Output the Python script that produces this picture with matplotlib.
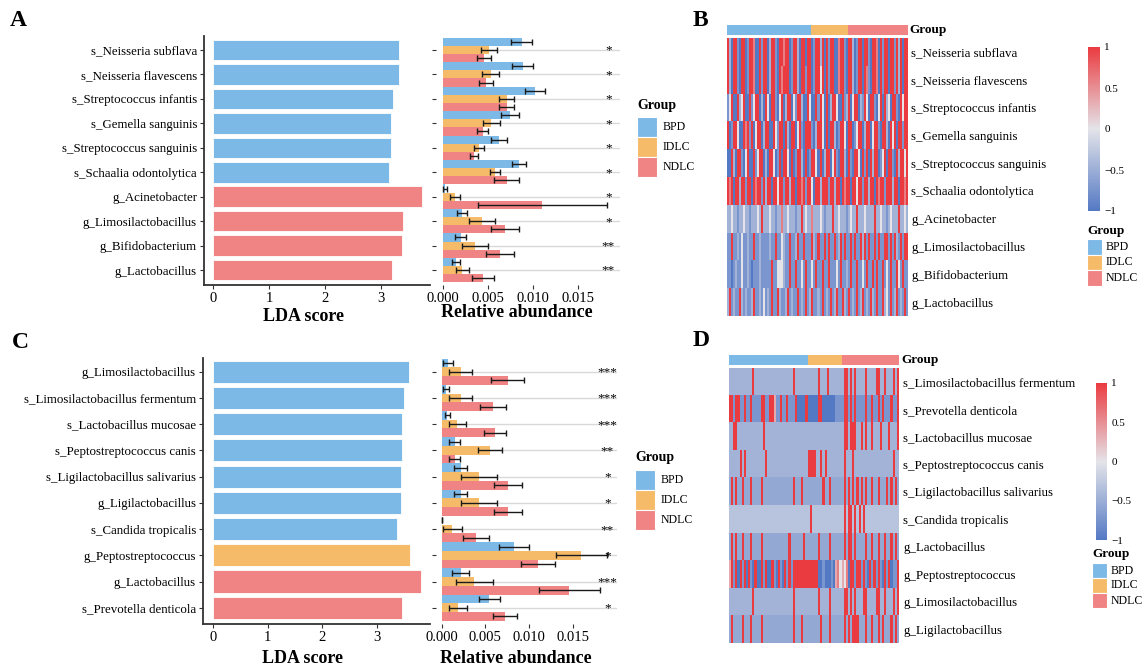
import numpy as np
import matplotlib.pyplot as plt
from matplotlib.colors import LinearSegmentedColormap, ListedColormap, Normalize
from matplotlib.cm import ScalarMappable
from matplotlib.patches import Rectangle

plt.rcParams['font.family'] = ['Liberation Serif', 'DejaVu Serif']

W, H = 1145, 670

groups = ['BPD', 'IDLC', 'NDLC']
group_colors = ['#7db9e6', '#f6bb69', '#f08383']
col = dict(zip(groups, group_colors))

# ---------------- Panel A / B data ----------------
a_taxa = ['s_Neisseria subflava', 's_Neisseria flavescens', 's_Streptococcus infantis',
          's_Gemella sanguinis', 's_Streptococcus sanguinis', 's_Schaalia odontolytica',
          'g_Acinetobacter', 'g_Limosilactobacillus', 'g_Bifidobacterium', 'g_Lactobacillus']
a_lda = [3.32, 3.32, 3.22, 3.18, 3.17, 3.15, 3.74, 3.39, 3.37, 3.19]
a_enriched = ['BPD', 'BPD', 'BPD', 'BPD', 'BPD', 'BPD', 'NDLC', 'NDLC', 'NDLC', 'NDLC']
a_bpd = [0.00874, 0.00885, 0.01022, 0.00744, 0.00622, 0.00844, 0.00022, 0.00207, 0.00196, 0.00141]
a_bpd_se = [0.0012, 0.0012, 0.0011, 0.0010, 0.0009, 0.00075, 0.0002, 0.00055, 0.00065, 0.00045]
a_idlc = [0.00515, 0.00533, 0.00707, 0.00537, 0.00396, 0.00578, 0.00133, 0.00437, 0.00356, 0.00215]
a_idlc_se = [0.0009, 0.00095, 0.0008, 0.00093, 0.00055, 0.00058, 0.0006, 0.00145, 0.0015, 0.00075]
a_ndlc = [0.00456, 0.00478, 0.00707, 0.00441, 0.00344, 0.00707, 0.01107, 0.00689, 0.00633, 0.00448]
a_ndlc_se = [0.00075, 0.00075, 0.0008, 0.0006, 0.0004, 0.00135, 0.0072, 0.0016, 0.0016, 0.0012]
a_sig = ['*', '*', '*', '*', '*', '*', '*', '*', '**', '**']

# heatmap B: one letter per sample (B=-1 ... R=1), samples ordered BPD | IDLC | NDLC
b_counts = [42, 18, 30]
b_rows = [
    "RlBRRbBRRB" "bRRrBBRbRR" "BlRRbBRRrR" "RBbRRlBRRB" "RRBbRRlRBR" "bRRBBrRRbB" "RRlBbRRBRR" "bBRRrBRbRR" "BRRbRlRBRR",
    "RlBRRbBRRB" "bRRrBBRbRR" "BlRRbBRrRR" "RBbRRlBRRb" "RRBbRRwRBR" "bRRBBrRRbB" "RRlBbRRBRr" "bBRRrBRbRR" "BRRbRlRBRR",
    "bwRBBRlwRB" "BRbwRRBlBR" "wBRRbBwRBl" "RRBwbRRlBB" "RwBBRbRwBR" "BlRRwBBRbl" "RBwRRBlbRw" "BRRbBwRBRl" "wBRRbBRwRR",
    "RBbRRwBBRr" "RbRBwRRBlR" "RBBRwbRRBR" "lBRRBwRbBR" "RRbBlRRwBR" "BRRlBbRRwB" "RRBbwRRBlR" "RBwRRbBRRl" "BRwRBRRbRR",
    "BBRlBRRbBw" "RBBRbwRRBl" "BRRwBbRBRR" "wBRBbRRlBR" "BbRRwBRBlR" "RBwRbBRRlB" "RbBRRwBRbR" "BRlRRBbwRB" "RRbBRlRRwR",
    "RrRBRRlRRb" "RRBRrRRbRl" "RRBRRwRRbR" "RlRRBRRrRb" "RRwBRRlRRR" "bRRlRRBRrR" "RBRRwRRbRR" "lRRBRrRRbR" "RRlRRBRRrR",
    "llwllbllwl" "lblllwlRll" "lwllbllrll" "wlllbllRlw" "llrlllwlbl" "llRllwlllb" "lwllRlllwl" "lllRllwllb" "lwlllRllwl",
    "bbRbblbwbb" "lbbRbblbbb" "blbbRbbwlb" "bRbblRbbRb" "bbRlbRbbRb" "RbbRblRbRb" "bRbRbbRlRb" "RbbRbRbbRR" "bRbRlbRbRR",
    "bbBblbbwbb" "lbBbbblbbb" "bbRbbwwwlb" "bRbbRbbwbR" "bbwbRbbRbb" "RbbbwbRbbl" "bRbbRbbwbR" "bbRbRbbRbw" "bRbbRwbRbb",
    "lRblbbRlbl" "bblRbblbwb" "lbRbbRlbbl" "RblbbRblbR" "blRbblbRbl" "bRblRbbRlb" "RblbRblRbl" "bRlbRbbRlw" "bRblRblbRb",
]

# ---------------- Panel C / D data ----------------
c_taxa = ['g_Limosilactobacillus', 's_Limosilactobacillus fermentum', 's_Lactobacillus mucosae',
          's_Peptostreptococcus canis', 's_Ligilactobacillus salivarius', 'g_Ligilactobacillus',
          's_Candida tropicalis', 'g_Peptostreptococcus', 'g_Lactobacillus', 's_Prevotella denticola']
c_lda = [3.59, 3.50, 3.46, 3.46, 3.44, 3.44, 3.38, 3.62, 3.81, 3.46]
c_enriched = ['BPD', 'BPD', 'BPD', 'BPD', 'BPD', 'BPD', 'BPD', 'IDLC', 'NDLC', 'NDLC']
c_bpd = [0.00073, 0.0005, 0.00065, 0.0015, 0.00218, 0.00218, 0.00003, 0.00831, 0.00218, 0.00544]
c_bpd_se = [0.00055, 0.0003, 0.00028, 0.00063, 0.00073, 0.00073, 0.0, 0.0017, 0.001, 0.0012]
c_idlc = [0.00218, 0.00218, 0.0018, 0.00552, 0.00429, 0.00429, 0.00122, 0.01602, 0.00375, 0.00184]
c_idlc_se = [0.0013, 0.0013, 0.001, 0.0014, 0.0021, 0.0021, 0.0011, 0.0029, 0.0021, 0.001]
c_ndlc = [0.00755, 0.0059, 0.0061, 0.0015, 0.00762, 0.00762, 0.00391, 0.01104, 0.0146, 0.00728]
c_ndlc_se = [0.0019, 0.0015, 0.0013, 0.00065, 0.0016, 0.0016, 0.0015, 0.002, 0.0035, 0.0014]
c_sig = ['***', '***', '***', '**', '*', '*', '**', '*', '***', '*']

d_taxa = ['s_Limosilactobacillus fermentum', 's_Prevotella denticola', 's_Lactobacillus mucosae',
          's_Peptostreptococcus canis', 's_Ligilactobacillus salivarius', 's_Candida tropicalis',
          'g_Lactobacillus', 'g_Peptostreptococcus', 'g_Limosilactobacillus', 'g_Ligilactobacillus']
d_counts = [37, 16, 27]
d_rows = [
    "llllllllll" "lRllllllll" "llllllllll" "Rlllllllll" "llRlllRlll" "llllRRlRlR" "llllRllllR" "RllRlllRlR",
    "RRbRRbbRbb" "RbbbbRRbbR" "RpbbRbbRbb" "bRBBBBRBBB" "BBRRBBBBBB" "bbbbRRbRbR" "bbbbRbbRbb" "RbRbbbRbbR",
    "llRRllllll" "llllllRlll" "llllllllll" "llllllllll" "llllllllll" "llllRRlRRR" "llRlRllRll" "lRlllRlllR",
    "lllllRlRll" "lllllllRll" "llllllllll" "lllllllRRR" "RllRlRllll" "llllRlllRl" "llllllllll" "lllllllRll",
    "mRmRmmRmmm" "RmmmmRmmmm" "mmmmmmmmmm" "RmmmRmmmmm" "mmmmRmmRmm" "mmmmRmRmRm" "RmRmRmmRmm" "RmmmRmRmRm",
    "cccccccccc" "cccccccccc" "cccccccccc" "ccccccccRc" "cccccccccc" "ccccRcRRcR" "cRcRcccccc" "cccccccccc",
    "mRmRmmRmmm" "RmmmmRmmmm" "mmmmmmmmRm" "mmmmmRmmmm" "mmRmmmmRmm" "mmmmRmRRmR" "mmmmRmmRmm" "RmmRmmRmRm",
    "pRbRBRbRBR" "bBRBBRbRBB" "RbBRbBRbRb" "RRRRRRRRRR" "RRBBbBBBbB" "prwpwrBRRb" "RRbRbBRbRb" "RbBRbRBbbR",
    "llllllllll" "lRllllllll" "llllllllll" "Rlllllllll" "llRllllRll" "llllRRlRlR" "lllRRllllR" "RllRlllRlR",
    "mRmmmmRmmm" "RmmmmRmmmm" "mmmmmmmmmm" "RmmmRmmmmm" "mmmRmmmRmm" "mmmmRmRmRR" "RmmmRmmRmm" "RmRmmmRmRm",
]

level = {'B': -1.0, 'b': -0.72, 'm': -0.55, 'l': -0.45, 'c': -0.3,
         'w': 0.0, 'p': 0.35, 'r': 0.6, 'R': 1.0}

cmap = LinearSegmentedColormap.from_list('bwr2', ['#5479c4', '#e4e4e9', '#ea3b40'])

fig = plt.figure(figsize=(W / 100, H / 100), dpi=100)


def axes_px(x0, y0, x1, y1):
    return fig.add_axes([x0 / W, 1 - y1 / H, (x1 - x0) / W, (y1 - y0) / H])


def lda_panel(box, taxa, lda, enriched, xlim, ylim, lab_y):
    ax = axes_px(*box)
    y = np.arange(len(taxa))
    ax.barh(y, lda, height=0.84, color=[col[g] for g in enriched],
            edgecolor='white', linewidth=0.6)
    ax.set_yticks(y)
    ax.set_yticklabels(taxa, fontsize=9.3)
    ax.set_xticks([0, 1, 2, 3])
    ax.set_xticklabels(['0', '1', '2', '3'], fontsize=10.5)
    ax.set_xlim(xlim)
    ax.set_ylim(ylim)
    for s in ['top', 'right']:
        ax.spines[s].set_visible(False)
    for s in ['left', 'bottom']:
        ax.spines[s].set_color('#333333')
        ax.spines[s].set_linewidth(1.3)
    ax.tick_params(length=3, width=0.8, color='#333333', pad=2)
    ax.set_xlabel('LDA score', fontsize=13, fontweight='bold')
    ax.xaxis.set_label_coords(0.44, lab_y)
    ax.xaxis.label.set_va('center')
    return ax


def abund_panel(box, means, ses, sig, xlim, ylim, star_x, lab_y):
    ax = axes_px(*box)
    y = np.arange(len(sig))
    ax.hlines(y, 0, xlim[1], color='#d9d9d9', lw=1, zorder=0)
    for k, (m, s, g) in enumerate(zip(means, ses, groups)):
        yy = y + (k - 1) / 3
        ax.barh(yy, m, height=1 / 3, color=col[g], zorder=2)
        ax.errorbar(m, yy, xerr=s, fmt='none', ecolor='#1a1a1a', elinewidth=1,
                    capsize=2, capthick=1, zorder=3)
    for yi, s in zip(y, sig):
        ax.text(star_x, yi + 0.15, s, ha='center', va='baseline', fontsize=9.5)
    for s in ax.spines.values():
        s.set_visible(False)
    ax.set_xlim(xlim)
    ax.set_ylim(ylim)
    ax.set_yticks(y)
    ax.set_yticklabels([])
    ax.set_xticks([0, 0.005, 0.010, 0.015])
    ax.set_xticklabels(['0.000', '0.005', '0.010', '0.015'], fontsize=10.5)
    ax.tick_params(length=3, width=0.8, color='#333333', pad=2)
    ax.set_xlabel('Relative abundance', fontsize=13, fontweight='bold')
    ax.xaxis.set_label_coords(0.44, lab_y)
    ax.xaxis.label.set_va('center')
    return ax


def heat_panel(box, bar_box, rows, labels, counts):
    ax = axes_px(*box)
    mat = np.array([[level[ch] for ch in r] for r in rows])
    ax.imshow(mat, cmap=cmap, vmin=-1, vmax=1, aspect='auto', interpolation='nearest')
    ax.set_xticks([])
    ax.yaxis.tick_right()
    ax.set_yticks(range(len(labels)))
    ax.set_yticklabels(labels, fontsize=9.3)
    ax.tick_params(length=0, pad=3)
    for s in ax.spines.values():
        s.set_visible(False)
    gx = axes_px(*bar_box)
    gx.imshow(np.repeat([0, 1, 2], counts)[None, :], cmap=ListedColormap(group_colors),
              vmin=0, vmax=2, aspect='auto', interpolation='nearest')
    gx.axis('off')
    gx.text(1.012, 0.5, 'Group', transform=gx.transAxes, fontsize=9.5,
            fontweight='bold', va='center', ha='left')


def colorbar_px(box):
    cax = axes_px(*box)
    cb = fig.colorbar(ScalarMappable(norm=Normalize(-1, 1), cmap=cmap), cax=cax,
                      ticks=[1, 0.5, 0, -0.5, -1])
    cb.outline.set_visible(False)
    cax.set_yticklabels(['1', '0.5', '0', '\u22120.5', '\u22121'], fontsize=8)
    cax.tick_params(length=0, pad=3)


# --- A ---
lda_panel((204, 36, 430, 285), a_taxa, a_lda, a_enriched, (-0.16, 3.875), (9.61, -0.57), -0.125)
abund_panel((436, 36, 620, 285), [a_bpd, a_idlc, a_ndlc], [a_bpd_se, a_idlc_se, a_ndlc_se],
            a_sig, (-0.00078, 0.0197), (9.61, -0.57), 0.0184, -0.112)

# --- C ---
lda_panel((203, 358, 430, 624), c_taxa, c_lda, c_enriched, (-0.19, 3.98), (9.62, -0.52), -0.128)
abund_panel((436, 358, 617, 624), [c_bpd, c_idlc, c_ndlc], [c_bpd_se, c_idlc_se, c_ndlc_se],
            c_sig, (-0.00066, 0.0201), (9.62, -0.52), 0.0190, -0.128)

# --- B / D heatmaps ---
heat_panel((727, 38, 907, 316), (727, 25, 907, 35), b_rows, a_taxa, b_counts)
heat_panel((729, 368, 899, 643), (729, 355, 899, 365), d_rows, d_taxa, d_counts)
colorbar_px((1088, 47, 1100, 211))
colorbar_px((1096, 383, 1107, 540))

# overlay for legends and panel letters (pixel coordinates)
ov = fig.add_axes([0, 0, 1, 1])
ov.set_xlim(0, W)
ov.set_ylim(H, 0)
ov.axis('off')


def group_legend(x, title_y, box_y, bw, bh, lab_dx, fs_title, fs_lab):
    ov.text(x, title_y, 'Group', fontsize=fs_title, fontweight='bold', va='center', ha='left')
    for i, g in enumerate(groups):
        y0 = box_y + i * bh
        ov.add_patch(Rectangle((x, y0), bw, bh, facecolor=col[g], edgecolor='white', lw=0.8))
        ov.text(x + bw + lab_dx, y0 + bh / 2, g, fontsize=fs_lab, va='center', ha='left')


group_legend(637, 105, 117, 20, 20, 6, 10, 8.5)
group_legend(635, 458, 470, 20, 20, 6, 10, 8.5)
group_legend(1087, 231, 239, 15, 15.5, 4, 9.5, 8.5)
group_legend(1092, 554, 563, 15, 15, 4, 9.5, 8.5)

for letter, (x, y) in zip('ABCD', [(10, 21), (693, 21), (12, 342), (693, 341)]):
    ov.text(x, y, letter, fontsize=17, fontweight='bold', va='center', ha='left')

fig.savefig('out.png', dpi=100)
